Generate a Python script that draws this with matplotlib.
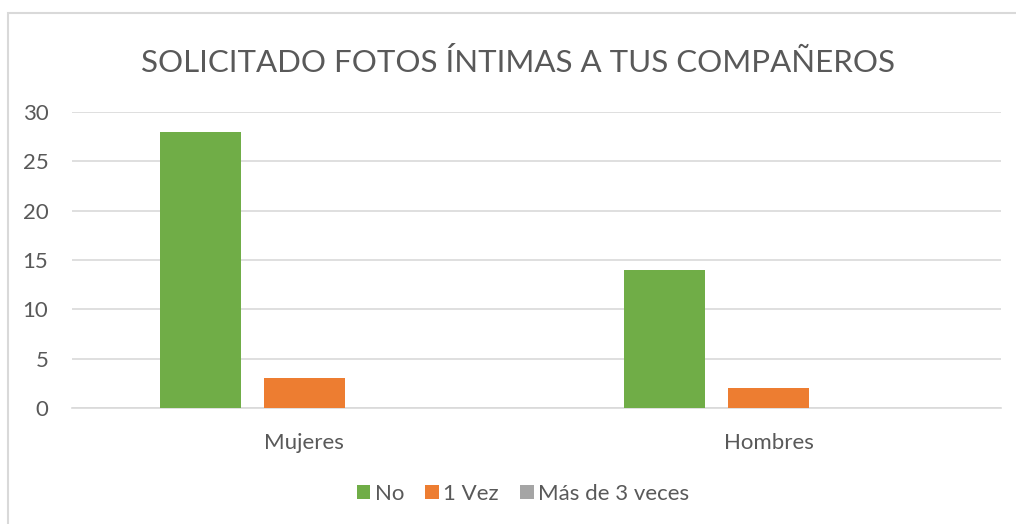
import matplotlib
matplotlib.use("Agg")
import matplotlib.pyplot as plt
import numpy as np
from matplotlib.patches import Rectangle

categories = ["Mujeres", "Hombres"]
series_names = ["No", "1 Vez", "Más de 3 veces"]
no_vals = [28, 14]
una_vez_vals = [3, 2]
mas3_vals = [0, 0]
yticks = [0, 5, 10, 15, 20, 25, 30]
title = "SOLICITADO FOTOS ÍNTIMAS A TUS COMPAÑEROS"

colors = ["#70AD47", "#ED7D31", "#A5A5A5"]
text_color = "#595959"
grid_color = "#D9D9D9"
plt.rcParams['font.family'] = ['Lato', 'DejaVu Sans']

W, H = 1016, 524
fig = plt.figure(figsize=(W / 100, H / 100), dpi=100)
fig.patch.set_facecolor("white")

# chart border
fig.add_artist(Rectangle((8 / W, -0.1), 1.2, 1 - 13 / H + 0.1, transform=fig.transFigure,
                         fill=False, edgecolor=grid_color, linewidth=1.5))

ax = fig.add_axes([72 / W, 1 - 408 / H, (1001 - 72) / W, (408 - 112) / H])
x = np.arange(len(categories))
bw = 0.1744
step = 0.224
for i, (vals, name) in enumerate(zip([no_vals, una_vez_vals, mas3_vals], series_names)):
    ax.bar(x + (i - 1) * step, vals, width=bw, color=colors[i], label=name, zorder=3)

ax.set_xlim(-0.5, 1.5)
ax.set_ylim(0, 30)
ax.set_yticks(yticks)
ax.set_yticklabels([str(v) for v in yticks])
ax.set_xticks(x)
ax.set_xticklabels(categories)
ax.yaxis.grid(True, color=grid_color, linewidth=1.2, zorder=0)
ax.set_axisbelow(True)
for s in ["top", "right", "left"]:
    ax.spines[s].set_visible(False)
ax.spines["bottom"].set_color(grid_color)
ax.spines["bottom"].set_linewidth(1.2)
ax.tick_params(axis="both", length=0, labelsize=16, labelcolor=text_color)
ax.tick_params(axis="y", pad=17)
ax.tick_params(axis="x", pad=18)

fig.text(518 / W, 1 - 62 / H, title, ha="center", va="center", fontsize=22.5, color=text_color)

leg = ax.legend(loc="center", bbox_to_anchor=(0.4855, (494 - 408) / -(408 - 112)), ncol=3, frameon=False,
                fontsize=16, labelcolor=text_color, handlelength=0.62, handleheight=0.62,
                handletextpad=0.2, columnspacing=0.95)

fig.savefig("out.png", dpi=100, facecolor="white")
